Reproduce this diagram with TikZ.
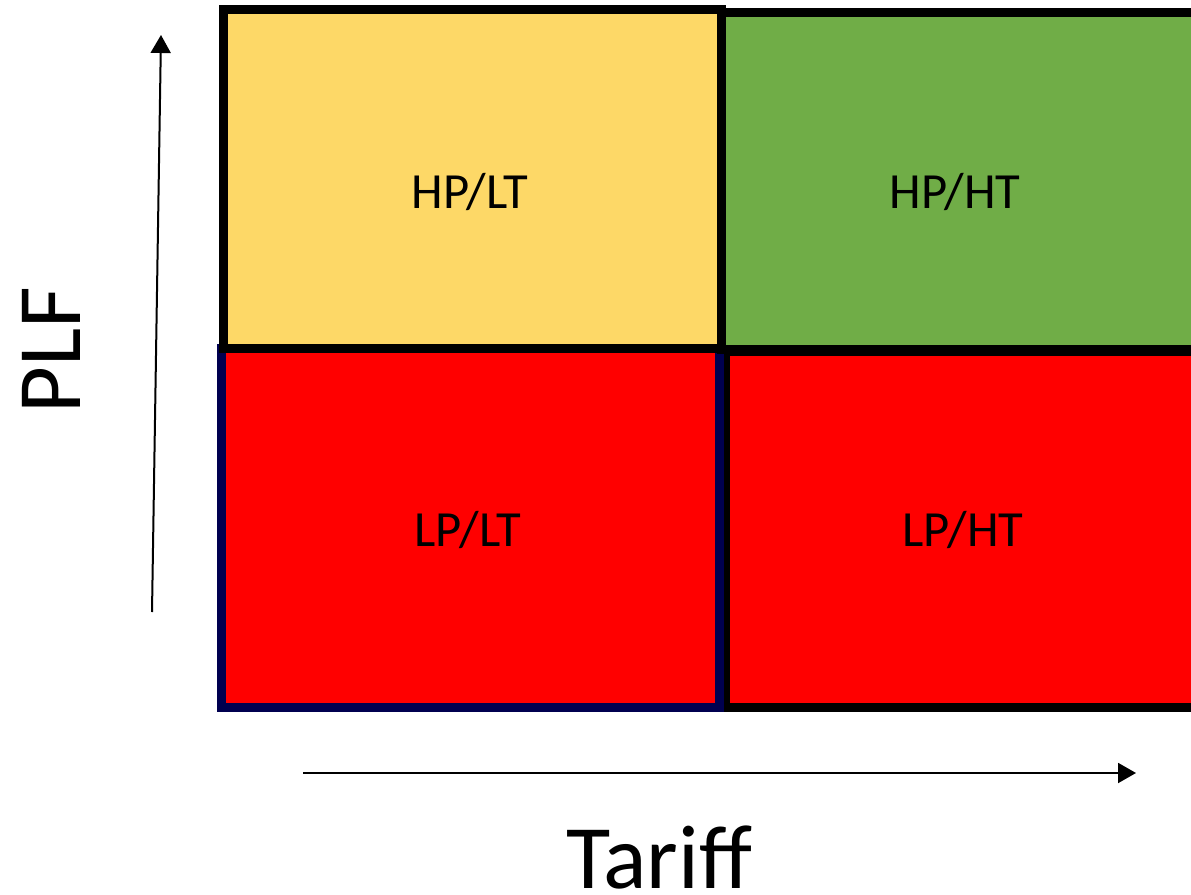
\documentclass[tikz,border=0pt]{standalone}
\usepackage{fontspec}
\setmainfont{Carlito}
\usetikzlibrary{arrows.meta}
\definecolor{cyellow}{HTML}{FDD867}
\definecolor{cgreen}{HTML}{70AD47}
\definecolor{cred}{HTML}{FF0000}
\definecolor{cnavy}{HTML}{000050}
\begin{document}
\begin{tikzpicture}[x=0.75pt,y=-0.75pt,
  cell/.style={line width=6.75pt,line join=miter},
  celltext/.style={font=\fontsize{38}{40}\selectfont,text=black,inner sep=0pt},
  axislabel/.style={font=\fontsize{68}{72}\selectfont,text=black,inner sep=0pt},
  axis/.style={line width=1.5pt,-{Triangle[length=13.5pt,width=15pt]}}]
\useasboundingbox (0,0) rectangle (1191,895);
\begin{scope}
\clip (0,0) rectangle (1191,895);
% lower right
\draw[cell,draw=black,fill=cred] (725,351) rectangle (1205,707.5);
% lower left
\draw[cell,draw=cnavy,fill=cred] (221,348) rectangle (719,707.5);
% upper left
\draw[cell,draw=black,fill=cyellow] (223.5,9.5) rectangle (721.5,348.5);
% upper right
\draw[cell,draw=black,fill=cgreen] (721.5,12.5) rectangle (1205,349.5);
\draw[cell,draw=black] (721.5,9.5) -- (721.5,348.5);
\end{scope}
\node[celltext] (hplt) at (470,192) {HP/LT};
\node[celltext] (hpht) at (955,192) {HP/HT};
\node[celltext] (lplt) at (468,530) {LP/LT};
\node[celltext] (lpht) at (963,530) {LP/HT};
\coordinate (ybot) at (152,612);
\coordinate (ytop) at (161,35);
\coordinate (xl) at (303,773);
\coordinate (xr) at (1136,773);
\draw[axis] (ybot) -- (ytop);
\draw[axis] (xl) -- (xr);
\node[axislabel,rotate=90,anchor=base] (plf) at (80,350) {PLF};
\node[axislabel,anchor=base] (tariff) at (659,888) {Tariff};
\end{tikzpicture}
\end{document}
